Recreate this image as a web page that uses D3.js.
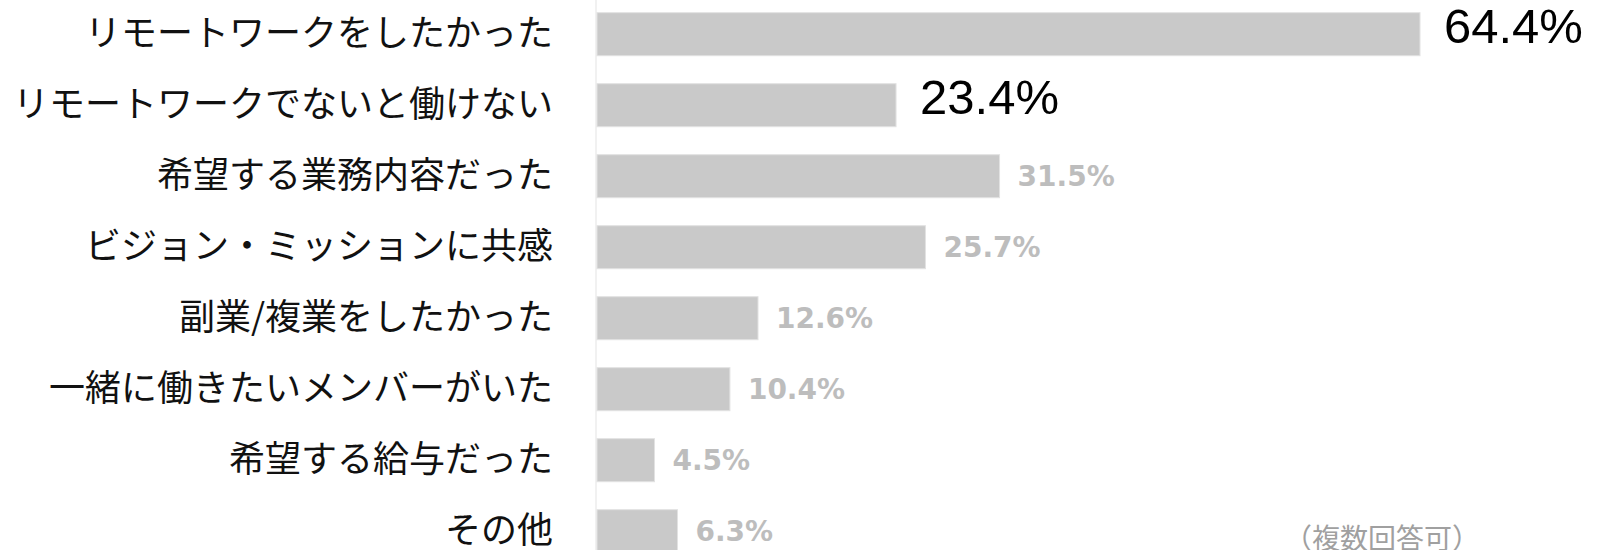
<!DOCTYPE html>
<html>
<head>
<meta charset="utf-8">
<script src="https://cdn.jsdelivr.net/npm/d3@7"></script>
<style>
  body { margin: 0; background: #fff; }
  svg { display: block; }
  .cat { font-family: "Noto Sans CJK JP", sans-serif; font-size: 36px; fill: #111; }
  .big { font-family: "Liberation Sans", Arial, sans-serif; font-size: 49px; fill: #000; }
  .small { font-family: "DejaVu Sans", Verdana, sans-serif; font-weight: bold; font-size: 28px; fill: #bdbdbd; }
  .note { font-family: "Noto Sans CJK JP", sans-serif; font-size: 28px; fill: #a0a0a0; }
</style>
</head>
<body>
<svg width="1599" height="550"></svg>
<script>
const categories = [
  'リモートワークをしたかった',
  'リモートワークでないと働けない',
  '希望する業務内容だった',
  'ビジョン・ミッションに共感',
  '副業/複業をしたかった',
  '一緒に働きたいメンバーがいた',
  '希望する給与だった',
  'その他'
];
const values = [64.4, 23.4, 31.5, 25.7, 12.6, 10.4, 4.5, 6.3];
const highlighted = ['リモートワークをしたかった', 'リモートワークでないと働けない'];
const note = '（複数回答可）';

const svg = d3.select('svg');
const width = +svg.attr('width');
const height = +svg.attr('height');

const data = categories.map((c, i) => ({ name: c, value: values[i] }));

const xScale = d3.scaleLinear()
  .domain([0, 64.4])
  .range([597, 1420]);

const yScale = d3.scaleBand()
  .domain(categories)
  .range([12.7, 552.7])
  .paddingInner(0.394)
  .paddingOuter(0);

// axis line
svg.append('line')
  .attr('x1', 596).attr('x2', 596)
  .attr('y1', 0).attr('y2', height)
  .attr('stroke', '#ececec')
  .attr('stroke-width', 1.5);

svg.selectAll('rect.bar').data(data).enter().append('rect')
  .attr('class', 'bar')
  .attr('x', xScale(0))
  .attr('y', d => yScale(d.name))
  .attr('width', d => xScale(d.value) - xScale(0))
  .attr('height', yScale.bandwidth())
  .attr('fill', '#c9c9c9')
  .attr('stroke', '#e2e2e2')
  .attr('stroke-width', 1);

const center = d => yScale(d.name) + yScale.bandwidth() / 2;

svg.selectAll('text.cat').data(data).enter().append('text')
  .attr('class', 'cat')
  .attr('x', 553)
  .attr('y', d => center(d) + 12)
  .attr('text-anchor', 'end')
  .text(d => d.name);

const isBig = d => highlighted.includes(d.name);

svg.selectAll('text.val').data(data).enter().append('text')
  .attr('class', d => isBig(d) ? 'val big' : 'val small')
  .attr('x', d => xScale(d.value) + (isBig(d) ? 24 : 18))
  .attr('y', d => isBig(d) ? center(d) + 9 : center(d) + 10)
  .text(d => d.value.toFixed(1) + '%');

svg.append('text')
  .attr('class', 'note')
  .attr('x', 1284)
  .attr('y', 549)
  .text(note);
</script>
</body>
</html>
